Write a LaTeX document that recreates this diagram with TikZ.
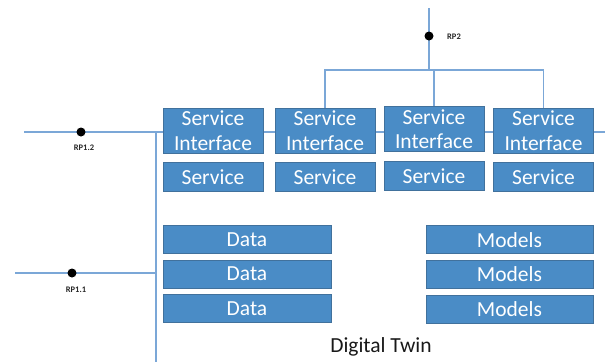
\documentclass[tikz,border=0pt]{standalone}
\usepackage{fontspec}
\setmainfont{Carlito}
\usetikzlibrary{backgrounds}
\definecolor{boxfill}{HTML}{4A8CC6}
\definecolor{boxedge}{HTML}{41719C}
\definecolor{linecol}{HTML}{7BA7D7}
\begin{document}
\begin{tikzpicture}[x=1pt,y=-1pt,
  blk/.style={rectangle,draw=boxedge,line width=0.6pt,fill=boxfill,text=white,
    inner sep=0pt,font=\fontsize{21.5}{24.5}\selectfont,align=center},
  si/.style={blk,minimum width=100pt,minimum height=45pt},
  sv/.style={blk,minimum width=100pt,minimum height=29pt},
  wide/.style={blk,minimum width=168pt,minimum height=28pt},
  conn/.style={draw=linecol,line width=1.2pt},
  dot/.style={circle,fill=black,inner sep=0pt,minimum size=9pt},
  rp/.style={font=\bfseries\fontsize{8.5}{10}\selectfont,text=black!85,inner sep=0pt}]
\useasboundingbox (0,0) rectangle (605,362);
% coordinates
\coordinate (top) at (429,8);
\coordinate (busc) at (429,70);
\coordinate (l2) at (24,132);
\coordinate (r2) at (605,132);
\coordinate (vtop) at (156,132);
\coordinate (vbot) at (156,362);
\coordinate (l1) at (15,273);
\coordinate (j1) at (156,273);
% boxes
\node[si] (si1) at (213,130.5) {Service\\Interface};
\node[si] (si2) at (325,130.5) {Service\\Interface};
\node[si] (si3) at (434,129) {Service\\Interface};
\node[si] (si4) at (543.5,130.5) {Service\\Interface};
\node[sv] (sv1) at (213,177) {Service};
\node[sv] (sv2) at (325,177) {Service};
\node[sv] (sv3) at (434,175.7) {Service};
\node[sv] (sv4) at (543.5,177) {Service};
\node[wide] (d1) at (247,239.7) {Data};
\node[wide] (d2) at (247,274) {Data};
\node[wide] (d3) at (247,308.2) {Data};
\node[wide,minimum width=167pt] (m1) at (509.5,239.7) {Models};
\node[wide,minimum width=167pt] (m2) at (509.5,274.5) {Models};
\node[wide,minimum width=167pt] (m3) at (509.5,309.2) {Models};
\node[font=\fontsize{21.5}{24}\selectfont,text=black!90] (dt) at (381,347) {Digital Twin};
% connectors behind boxes
\begin{pgfonlayer}{background}
\draw[conn] (top) -- (busc);
\draw[conn] (si2.north) -- (si2.north |- busc) -- (si4.north |- busc) -- (si4.north);
\draw[conn] (si3.north) -- (si3.north |- busc);
\draw[conn] (l2) -- (r2);
\draw[conn] (vtop) -- (vbot);
\draw[conn] (l1) -- (j1);
\end{pgfonlayer}
\node[dot] (rp2) at (429,36) {};
\node[dot] (rp12) at (81,132) {};
\node[dot] (rp11) at (72,273) {};
\node[rp,anchor=west] (lrp2) at (447,37) {RP2};
\node[rp] (lrp12) at (84,148) {RP1.2};
\node[rp] (lrp11) at (76,289.5) {RP1.1};
\end{tikzpicture}
\end{document}
